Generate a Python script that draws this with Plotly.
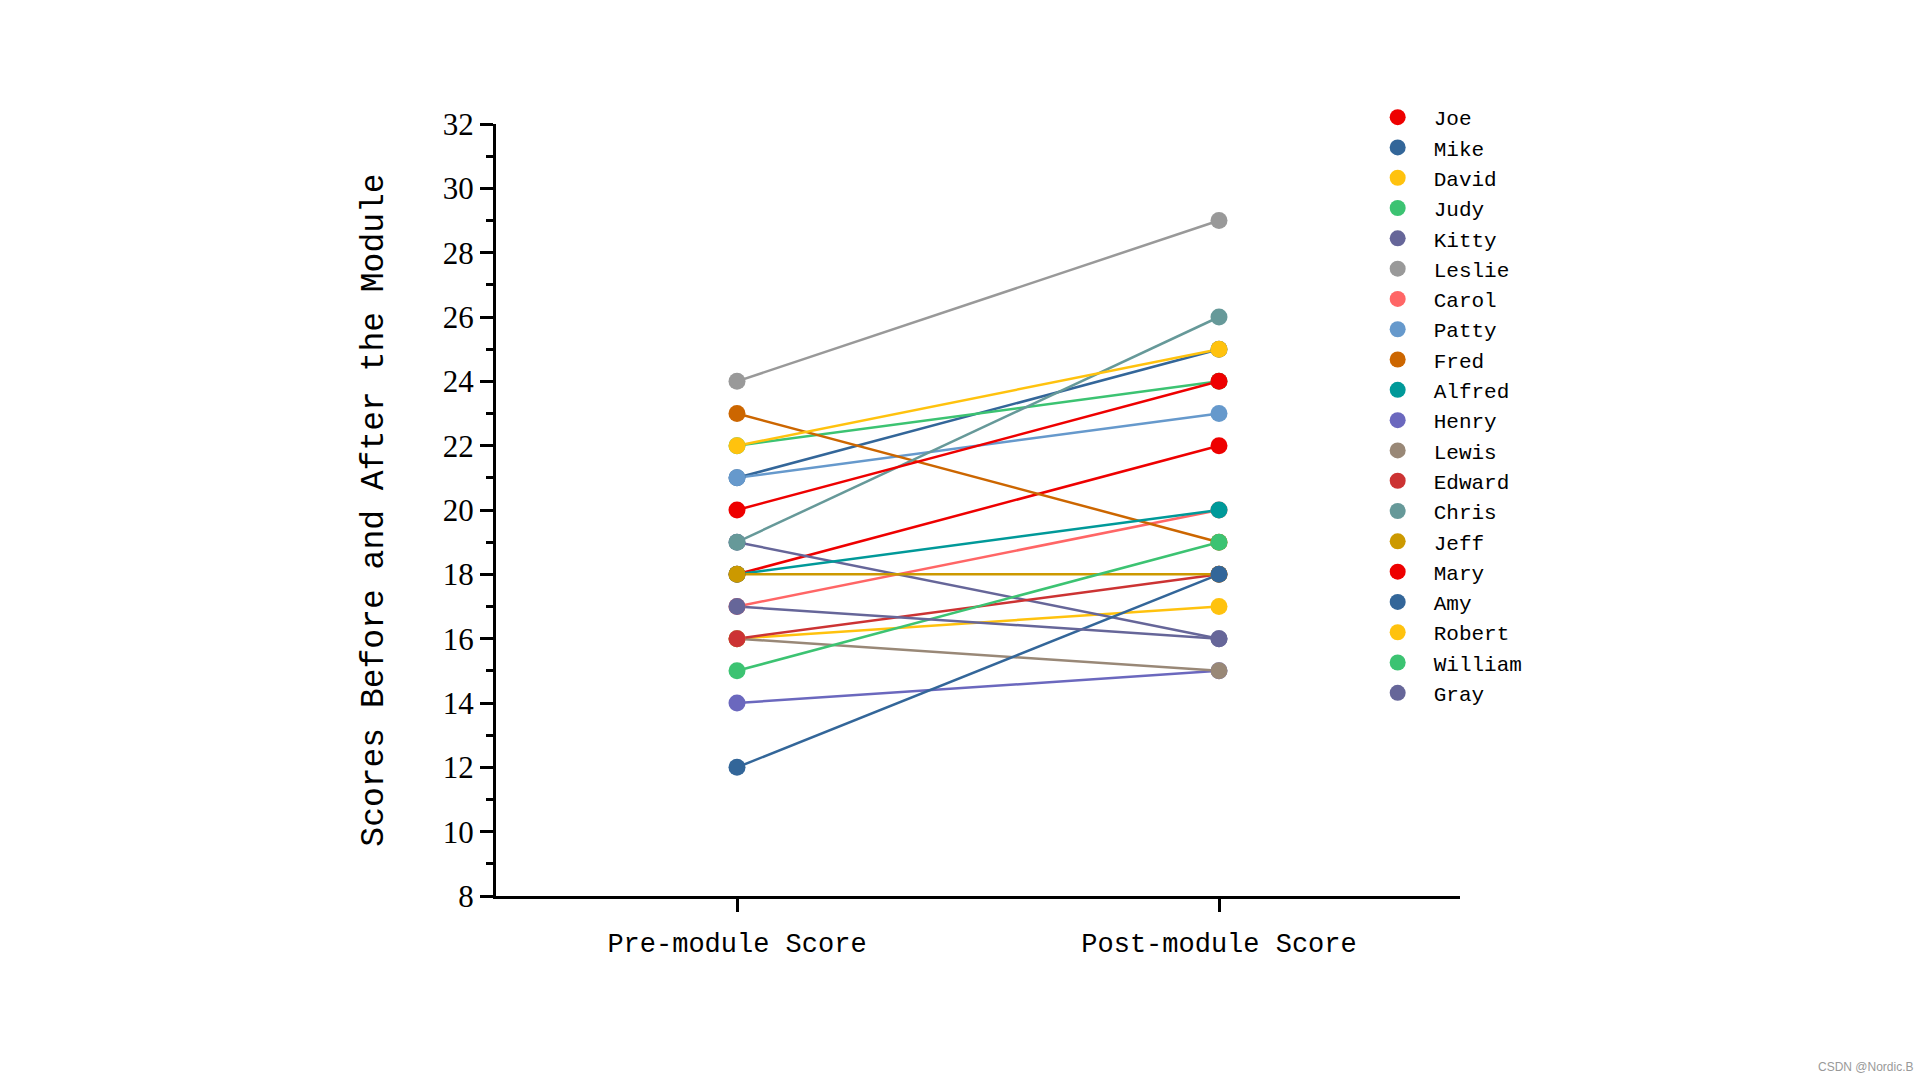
import plotly.graph_objects as go

names = ["Joe", "Mike", "David", "Judy", "Kitty", "Leslie", "Carol", "Patty", "Fred", "Alfred",
         "Henry", "Lewis", "Edward", "Chris", "Jeff", "Mary", "Amy", "Robert", "William", "Gray"]
pre_scores = [18, 21, 16, 22, 19, 24, 17, 21, 23, 18, 14, 16, 16, 19, 18, 20, 12, 22, 15, 17]
post_scores = [22, 25, 17, 24, 16, 29, 20, 23, 19, 20, 15, 15, 18, 26, 18, 24, 18, 25, 19, 16]
colors = ["#EE0000", "#336699", "#FFC20E", "#3CC372", "#666699", "#999999", "#FF6666", "#6699CC",
          "#CC6600", "#009999", "#6B68BE", "#998877", "#CC3333", "#669999", "#CC9900", "#EE0000",
          "#336699", "#FFC20E", "#3CC372", "#666699"]
categories = ["Pre-module Score", "Post-module Score"]

fig = go.Figure()
for n, a, b, c in zip(names, pre_scores, post_scores, colors):
    fig.add_trace(go.Scatter(x=categories, y=[a, b], mode="lines",
                             line=dict(color=c, width=2.5), showlegend=False, hoverinfo="skip"))
for n, a, b, c in zip(names, pre_scores, post_scores, colors):
    fig.add_trace(go.Scatter(x=categories, y=[a, b], mode="markers", name=n,
                             marker=dict(color=c, size=17, line=dict(width=0))))

fig.update_layout(
    width=1920, height=1080,
    margin=dict(l=496, r=460, t=124, b=184),
    plot_bgcolor="white", paper_bgcolor="white",
    font=dict(family="Liberation Mono", color="black"),
    legend=dict(x=0.898, y=1.035, xanchor="left", yanchor="top",
                font=dict(family="Liberation Mono", size=21, color="black"),
                itemwidth=62, maxheight=1000, bgcolor="rgba(0,0,0,0)"),
    xaxis=dict(type="category", categoryarray=categories, range=[-0.5, 1.5],
               showline=True, linecolor="black", linewidth=3, showgrid=False, zeroline=False,
               ticks="outside", ticklen=13, tickwidth=3, tickcolor="black",
               tickfont=dict(family="Liberation Mono", size=27, color="black"),
               ticklabelstandoff=8),
    yaxis=dict(range=[8, 32], dtick=2, tick0=8, showline=True, linecolor="black", linewidth=3,
               showgrid=False, zeroline=False, ticks="outside", ticklen=13, tickwidth=3,
               tickcolor="black",
               tickfont=dict(family="Liberation Serif", size=31, color="black"),
               minor=dict(dtick=1, ticks="outside", ticklen=7, tickwidth=3, tickcolor="black",
                          showgrid=False),
               title=dict(text="Scores Before and After the Module",
                          font=dict(family="Liberation Mono", size=33, color="black"),
                          standoff=50)),
)
fig.add_annotation(text="CSDN @Nordic.B", xref="paper", yref="paper", x=1.0, y=0,
                   xanchor="right", yanchor="bottom", showarrow=False,
                   xshift=(1920 - 1460) - 4, yshift=-184 + 4,
                   font=dict(family="Liberation Sans", size=12, color="#999999"))
fig.write_html("out.html")
